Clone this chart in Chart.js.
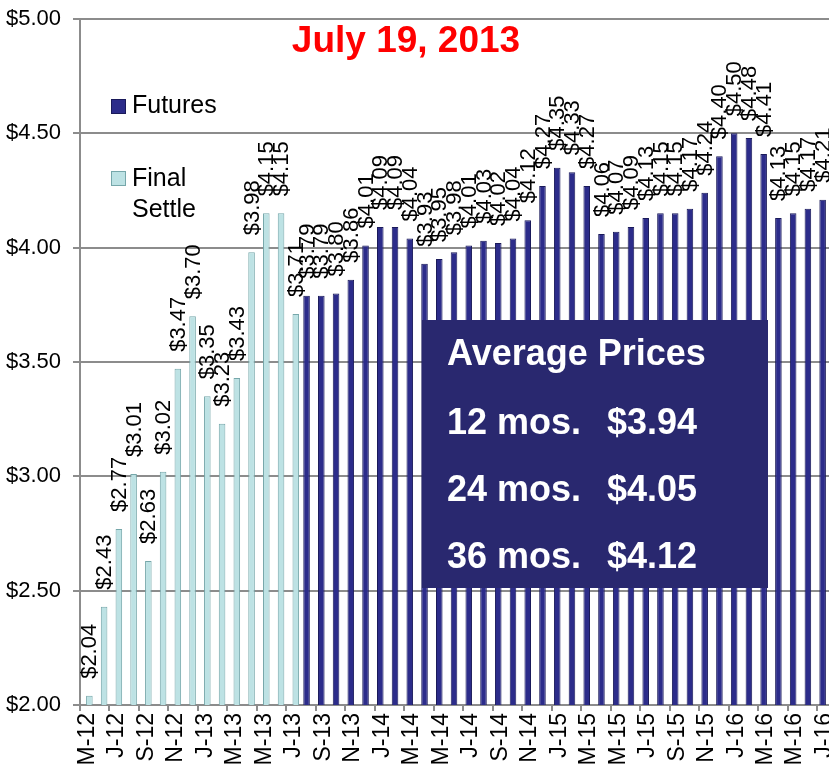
<!DOCTYPE html>
<html>
<head>
<meta charset="utf-8">
<script src="https://cdn.jsdelivr.net/npm/chart.js@4"></script>
<style>
  html, body { margin: 0; padding: 0; background: #fff; overflow: hidden; }
  #wrap { position: relative; width: 832px; height: 764px; }
</style>
</head>
<body>
<div id="wrap"><canvas id="chart"></canvas></div>
<script>
// months May-12 .. Jul-16
const months = [
  "M-12","J-12","J-12","A-12","S-12","O-12","N-12","D-12",
  "J-13","F-13","M-13","A-13","M-13","J-13","J-13","A-13","S-13","O-13","N-13","D-13",
  "J-14","F-14","M-14","A-14","M-14","J-14","J-14","A-14","S-14","O-14","N-14","D-14",
  "J-15","F-15","M-15","A-15","M-15","J-15","J-15","A-15","S-15","O-15","N-15","D-15",
  "J-16","F-16","M-16","A-16","M-16","J-16","J-16"
];

// May-12 .. Jul-13
const finalSettle = [2.04, 2.43, 2.77, 3.01, 2.63, 3.02, 3.47, 3.70, 3.35, 3.23, 3.43, 3.98, 4.15, 4.15, 3.71];

// Aug-13 .. Jul-16
const futures = [
  3.79, 3.79, 3.80, 3.86, 4.01, 4.09, 4.09, 4.04, 3.93, 3.95, 3.98, 4.01,
  4.03, 4.02, 4.04, 4.12, 4.27, 4.35, 4.33, 4.27, 4.06, 4.07, 4.09, 4.13,
  4.15, 4.15, 4.17, 4.24, 4.40, 4.50, 4.48, 4.41, 4.13, 4.15, 4.17, 4.21
];

const yTicks = [2.00, 2.50, 3.00, 3.50, 4.00, 4.50, 5.00];

const titleText = "July 19, 2013";
const averages = [["12 mos.", "$3.94"], ["24 mos.", "$4.05"], ["36 mos.", "$4.12"]];

const settleData = months.map((m, i) => i < finalSettle.length ? finalSettle[i] : null);
const futuresData = months.map((m, i) => i < finalSettle.length ? null : futures[i - finalSettle.length]);

const FONT = '"Liberation Sans", Arial, sans-serif';
const NAVY = "#2c2c8a";
const NAVY_EDGE = "#1a1a5a";
const CYAN = "#bde2e4";
const CYAN_EDGE = "#76a7aa";

/* -------- value labels on bars -------- */
const barLabels = {
  id: "barLabels",
  afterDatasetsDraw(chart) {
    const ctx = chart.ctx;
    ctx.save();
    ctx.font = "22px " + FONT;
    ctx.fillStyle = "#000";
    ctx.textAlign = "left";
    ctx.textBaseline = "middle";
    chart.data.datasets.forEach((ds, i) => {
      chart.getDatasetMeta(i).data.forEach((bar, j) => {
        const v = ds.data[j];
        if (v == null) return;
        ctx.save();
        ctx.translate(bar.x + 1, bar.y - 17);
        ctx.rotate(-Math.PI / 2);
        ctx.fillText("$" + v.toFixed(2), 0, 0);
        ctx.restore();
      });
    });
    ctx.restore();
  }
};

/* -------- title, legend, average box -------- */
const extras = {
  id: "extras",
  afterDraw(chart) {
    const ctx = chart.ctx;
    ctx.save();

    // title
    ctx.font = "bold 37px " + FONT;
    ctx.fillStyle = "#ff0000";
    ctx.textAlign = "center";
    ctx.textBaseline = "alphabetic";
    ctx.fillText(titleText, 406, 52);

    // legend
    ctx.textAlign = "left";
    ctx.font = "25px " + FONT;
    ctx.fillStyle = NAVY;
    ctx.fillRect(111, 99, 15, 15);
    ctx.strokeStyle = NAVY_EDGE;
    ctx.lineWidth = 1;
    ctx.strokeRect(111.5, 99.5, 14, 14);
    ctx.fillStyle = CYAN;
    ctx.fillRect(111, 171, 15, 15);
    ctx.strokeStyle = CYAN_EDGE;
    ctx.strokeRect(111.5, 171.5, 14, 14);
    ctx.fillStyle = "#000";
    ctx.fillText(chart.data.datasets[0].label, 132, 113);
    ctx.fillText("Final", 132, 186);
    ctx.fillText("Settle", 132, 217);

    // average prices box
    ctx.fillStyle = "#29286f";
    ctx.fillRect(422, 320, 346, 268);
    ctx.fillStyle = "#fff";
    ctx.font = "bold 36px " + FONT;
    ctx.fillText("Average Prices", 447, 365);
    averages.forEach((a, i) => {
      const y = 434 + i * 67;
      ctx.fillText(a[0], 447, y);
      ctx.fillText(a[1], 607, y);
    });

    ctx.restore();
  }
};

const ctx = document.getElementById("chart").getContext("2d");

new Chart(ctx, {
  type: "bar",
  data: {
    labels: months,
    datasets: [
      {
        label: "Futures",
        data: futuresData,
        backgroundColor: NAVY,
        borderColor: NAVY_EDGE,
        borderWidth: 1
      },
      {
        label: "Final Settle",
        data: settleData,
        backgroundColor: CYAN,
        borderColor: CYAN_EDGE,
        borderWidth: 1
      }
    ]
  },
  options: {
    responsive: true,
    maintainAspectRatio: false,
    animation: false,
    categoryPercentage: 0.54,
    barPercentage: 1.65,
    layout: { padding: { top: 19, right: 0, bottom: 0, left: 0 } },
    plugins: {
      legend: { display: false },
      tooltip: { enabled: false }
    },
    scales: {
      x: {
        grid: {
          drawOnChartArea: false,
          tickLength: 6,
          lineWidth: 2,
          tickColor: c => (c.index % 2 === 0 ? "#8c8c8c" : "rgba(0,0,0,0)")
        },
        border: { color: "#8c8c8c", width: 2 },
        ticks: {
          autoSkip: false,
          maxRotation: 90,
          minRotation: 90,
          padding: 2,
          color: "#000",
          font: { family: FONT, size: 23 },
          callback: function (val, idx) {
            return idx % 2 === 0 ? this.getLabelForValue(val) : "";
          }
        },
        afterFit: axis => {
          axis.height = 59;
          axis.paddingLeft = 0;
          axis.paddingRight = 0;
        }
      },
      y: {
        min: yTicks[0],
        max: yTicks[yTicks.length - 1],
        afterBuildTicks: axis => { axis.ticks = yTicks.map(v => ({ value: v })); },
        grid: {
          color: "#8c8c8c",
          lineWidth: 2,
          tickLength: 7
        },
        border: { color: "#8c8c8c", width: 2 },
        ticks: {
          padding: 12,
          color: "#000",
          font: { family: FONT, size: 22 },
          callback: v => "$" + Number(v).toFixed(2)
        },
        afterFit: axis => {
          axis.width = 80;
          axis.paddingTop = 0;
          axis.paddingBottom = 0;
        }
      }
    }
  },
  plugins: [barLabels, extras]
});
</script>
</body>
</html>
